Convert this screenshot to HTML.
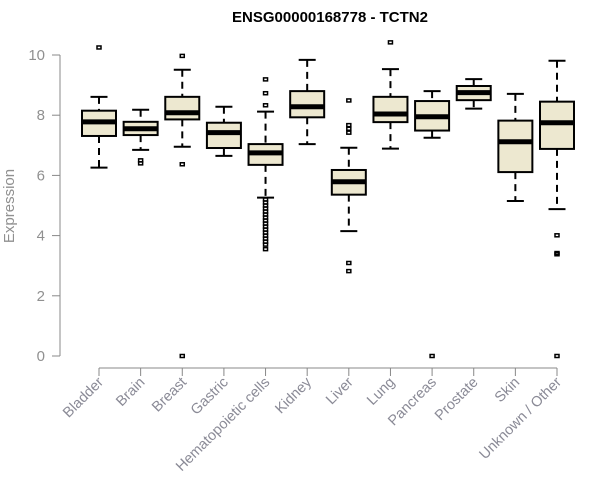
<!DOCTYPE html>
<html><head><meta charset="utf-8"><style>
body{margin:0;background:#fff}
svg{display:block;font-family:"Liberation Sans",Arial,sans-serif}
</style></head><body>
<svg id="chart" width="600" height="500">
<text x="330" y="22" text-anchor="middle" font-weight="bold" font-size="15" fill="#000">ENSG00000168778 - TCTN2</text>
<text transform="translate(14,206) rotate(-90)" text-anchor="middle" font-size="15" fill="#909090">Expression</text>
<g id="yaxis"></g>
<g id="xaxis"></g>
<g id="boxes"></g>
</svg>
<script>
const categories=["Bladder","Brain","Breast","Gastric","Hematopoietic cells","Kidney","Liver","Lung","Pancreas","Prostate","Skin","Unknown / Other"];
const whiskerLow=[6.26,6.85,6.95,6.65,5.26,7.04,4.15,6.89,7.25,8.22,5.15,4.88];
const q1=[7.31,7.34,7.86,6.91,6.35,7.93,5.36,7.77,7.49,8.50,6.11,6.88];
const median=[7.78,7.55,8.08,7.42,6.75,8.28,5.79,8.04,7.95,8.75,7.12,7.75];
const q3=[8.15,7.78,8.61,7.75,7.04,8.80,6.18,8.61,8.47,8.97,7.82,8.45];
const whiskerHigh=[8.61,8.18,9.51,8.28,8.12,9.84,6.92,9.53,8.80,9.20,8.71,9.81];
const outliers=[[10.25],[6.5,6.4],[9.97,6.37,0],[],[9.19,8.73,8.33,5.2,5.1,5.0,4.9,4.8,4.7,4.6,4.5,4.4,4.3,4.2,4.1,4.0,3.9,3.8,3.7,3.55],[],[8.49,7.67,7.55,7.42,3.09,2.82],[10.42],[0],[],[],[4.01,3.42,3.38,0]];
const yTicks=[0,2,4,6,8,10];
const NS="http://www.w3.org/2000/svg";
function y(v){return 356-v*30.1;}
function x(i){return 99+i*(557-99)/(categories.length-1);}
function mk(tag,attrs,parent){const e=document.createElementNS(NS,tag);for(const k in attrs)e.setAttribute(k,attrs[k]);parent.appendChild(e);return e;}
const ya=document.getElementById('yaxis'),xa=document.getElementById('xaxis'),bx=document.getElementById('boxes');
mk('line',{x1:60,x2:60,y1:y(10),y2:y(0),stroke:'#888','stroke-width':1},ya);
yTicks.forEach(t=>{
 mk('line',{x1:52,x2:60,y1:y(t),y2:y(t),stroke:'#888'},ya);
 const tx=mk('text',{x:45,y:y(t)+5,'text-anchor':'end','font-size':15,fill:'#909090'},ya);
 tx.textContent=t;
 
 
});
mk('line',{x1:x(0),x2:x(categories.length-1),y1:368,y2:368,stroke:'#888'},xa);
categories.forEach((c,i)=>{
 const cx=x(i);
 mk('line',{x1:cx,x2:cx,y1:368,y2:376,stroke:'#888'},xa);
 const tx=mk('text',{transform:`translate(${cx+5},${383}) rotate(-45)`,'text-anchor':'end','font-size':14.5,fill:'#8a8a96'},xa);
 tx.textContent=c;
 
 
 const g=mk('g',{},bx);
 
 
 const hw=17,cw=8.5;
 mk('line',{x1:cx,x2:cx,y1:y(whiskerHigh[i]),y2:y(q3[i]),stroke:'#000','stroke-width':2,'stroke-dasharray':'7,5'},g);
 mk('line',{x1:cx,x2:cx,y1:y(q1[i]),y2:y(whiskerLow[i]),stroke:'#000','stroke-width':2,'stroke-dasharray':'7,5'},g);
 mk('line',{x1:cx-cw,x2:cx+cw,y1:y(whiskerHigh[i]),y2:y(whiskerHigh[i]),stroke:'#000','stroke-width':2},g);
 mk('line',{x1:cx-cw,x2:cx+cw,y1:y(whiskerLow[i]),y2:y(whiskerLow[i]),stroke:'#000','stroke-width':2},g);
 mk('rect',{x:cx-hw,y:y(q3[i]),width:2*hw,height:y(q1[i])-y(q3[i]),fill:'#ede8d0',stroke:'#000','stroke-width':2},g);
 mk('line',{x1:cx-hw,x2:cx+hw,y1:y(median[i]),y2:y(median[i]),stroke:'#000','stroke-width':5},g);
 outliers[i].forEach(v=>{
  mk('rect',{x:cx-2,y:y(v)-1.5,width:4,height:3,fill:'none',stroke:'#000','stroke-width':1.5},g);
 });
});
</script>
</body></html>
